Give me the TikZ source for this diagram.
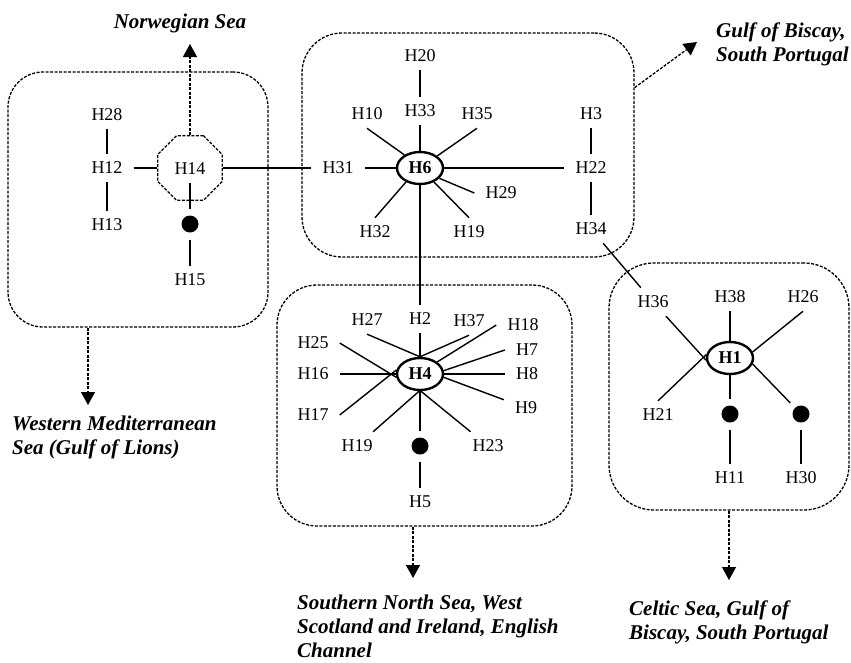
\documentclass[tikz,border=0pt]{standalone}
\usepackage{fontspec}
\setmainfont{Liberation Serif}
\usetikzlibrary{arrows.meta,shapes.geometric}
\begin{document}
\begin{tikzpicture}[x=1pt,y=-1pt,
  hap/.style={font=\fontsize{18}{20}\selectfont, inner xsep=11pt, inner ysep=8pt},
  hub/.style={ellipse, draw, line width=2.4pt, minimum width=46pt, minimum height=32pt, inner sep=0pt, font=\fontsize{18}{20}\selectfont\bfseries},
  mv/.style={circle, fill, minimum size=17pt, inner sep=0pt, outer sep=7pt},
  grp/.style={rectangle, draw, dash pattern=on 3pt off 1.5pt, line width=1.3pt, rounded corners=40pt},
  link/.style={line width=1.4pt},
  mig/.style={dash pattern=on 3pt off 1.5pt, line width=1.3pt, -{Triangle[length=13pt,width=14pt]}},
  area/.style={font=\fontsize{21}{24}\selectfont\bfseries\itshape, align=left, inner sep=0pt, anchor=north west},
]
\useasboundingbox (0,0) rectangle (851,662);

% group boxes
\node[grp, minimum width=260pt, minimum height=255pt, rounded corners=35pt] (boxW) at (138,199.5) {};
\node[grp, minimum width=332pt, minimum height=224pt] (boxN) at (468,145) {};
\node[grp, minimum width=295pt, minimum height=241pt] (boxS) at (424.5,405.5) {};
\node[grp, minimum width=240pt, minimum height=247pt, rounded corners=45pt] (boxE) at (729,386.5) {};

% western group
\node[hap] (H28) at (107,115) {H28};
\node[hap] (H12) at (107,168) {H12};
\node[hap] (H13) at (107,225) {H13};
\node[regular polygon, regular polygon sides=8, draw, dash pattern=on 3pt off 1.5pt, line width=1.3pt, minimum size=70pt, inner sep=0pt] (oct) at (190,168) {};
\node[hap] (H14) at (190,169) {H14};
\node[mv] (d14) at (190,224) {};
\node[hap] (H15) at (190,280) {H15};
\coordinate (tipN) at (190,44);
\node[area, anchor=base] (norw) at (180,28) {Norwegian Sea};

% northern group
\node[hub] (H6) at (420,168) {H6};
\node[hap] (H20) at (420,56) {H20};
\node[hap] (H33) at (420,111) {H33};
\node[hap] (H10) at (367,114) {H10};
\node[hap] (H35) at (477,114) {H35};
\node[hap] (H31) at (338,168) {H31};
\node[hap] (H22) at (591,168) {H22};
\node[hap] (H3) at (591,114) {H3};
\node[hap] (H34) at (591,229) {H34};
\node[hap] (H29) at (501,193) {H29};
\node[hap] (H32) at (375,232) {H32};
\node[hap] (H19a) at (469,232) {H19};

% southern group
\node[hub] (H4) at (420,374) {H4};
\node[hap] (H2) at (420,319) {H2};
\node[hap] (H27) at (367,320) {H27};
\node[hap] (H37) at (469,321) {H37};
\node[hap] (H18) at (523,325) {H18};
\node[hap] (H7) at (527,350) {H7};
\node[hap] (H8) at (527,374) {H8};
\node[hap] (H9) at (526,408) {H9};
\node[hap] (H23) at (488,446) {H23};
\node[hap] (H19b) at (357,446) {H19};
\node[hap] (H17) at (313,415) {H17};
\node[hap] (H16) at (313,374) {H16};
\node[hap] (H25) at (313,343) {H25};
\node[mv] (d4) at (420,446) {};
\node[hap] (H5) at (420,502) {H5};

% eastern group
\node[hub] (H1) at (730,358) {H1};
\node[hap] (H38) at (730,297) {H38};
\node[hap] (H26) at (803,297) {H26};
\node[hap] (H36) at (653,302) {H36};
\node[hap] (H21) at (658,415) {H21};
\node[mv] (d1) at (730,414) {};
\node[mv] (d2) at (801,414) {};
\node[hap] (H11) at (730,478) {H11};
\node[hap] (H30) at (801,478) {H30};

% connectors
\draw[link] (H28) -- (H12);
\draw[link] (H12) -- (H13);
\draw[link] (H12) -- (oct);
\draw[link] (H14) -- (d14);
\draw[link] (d14) -- (H15);
\draw[link] (oct) -- (H31);

\draw[link] (H20) -- (H33);
\draw[link] (H33) -- (H6);
\draw[link] (H10.south) -- (H6.140);
\draw[link] (H35.south) -- (H6.35);
\draw[link] (H31) -- (H6);
\draw[link] (H6) -- (H22);
\draw[link] (H29.west) -- (H6.-28);
\draw[link] (H32.north) -- (H6.-135);
\draw[link] (H19a.north) -- (H6.-45);
\draw[link] (H3) -- (H22);
\draw[link] (H22) -- (H34);
\draw[link] (H34) -- (H36);
\draw[link] (H6) -- (H2);

\draw[link] (H2) -- (H4);
\draw[link] (H27.south) -- (H4.north);
\draw[link] (H37.south) -- (H4.north);
\draw[link] (H18.west) -- (H4.35);
\draw[link] (H7.west) -- (H4.8);
\draw[link] (H8) -- (H4);
\draw[link] (H9) -- (H4.-8);
\draw[link] (H23) -- (H4.-87);
\draw[link] (H19b) -- (H4.-93);
\draw[link] (H17.east) -- (H4.170);
\draw[link] (H25.east) -- (H4.188);
\draw[link] (H16) -- (H4);
\draw[link] (H4) -- (d4);
\draw[link] (d4) -- (H5);

\draw[link] (H38) -- (H1);
\draw[link] (H26.south) -- (H1.15);
\draw[link] (H36) -- (H1.185);
\draw[link] (H21.north) -- (H1.172);
\draw[link] (H1) -- (d1);
\draw[link] (H1.-15) -- (d2);
\draw[link] (d1) -- (H11);
\draw[link] (d2) -- (H30);

% migration arrows
\draw[mig] (oct) -- (tipN);
\coordinate (tipW) at (88,405);
\draw[mig] (tipW |- boxW.south) -- (tipW);
\coordinate (tipNE) at (697,42);
\draw[mig] (boxN.19.3) -- (tipNE);
\coordinate (tipS) at (413,578);
\draw[mig] (tipS |- boxS.south) -- (tipS);
\coordinate (tipE) at (729,580);
\draw[mig] (tipE |- boxE.south) -- (tipE);

% area labels
\node[area] (tW) at (12,416) {Western Mediterranean\\Sea (Gulf of Lions)};
\node[area] (tNE) at (716,22.5) {Gulf of Biscay,\\South Portugal};
\node[area] (tS) at (297,594.5) {Southern North Sea, West\\Scotland and Ireland, English\\Channel};
\node[area] (tE) at (629,600.5) {Celtic Sea, Gulf of\\Biscay, South Portugal};
\end{tikzpicture}
\end{document}
